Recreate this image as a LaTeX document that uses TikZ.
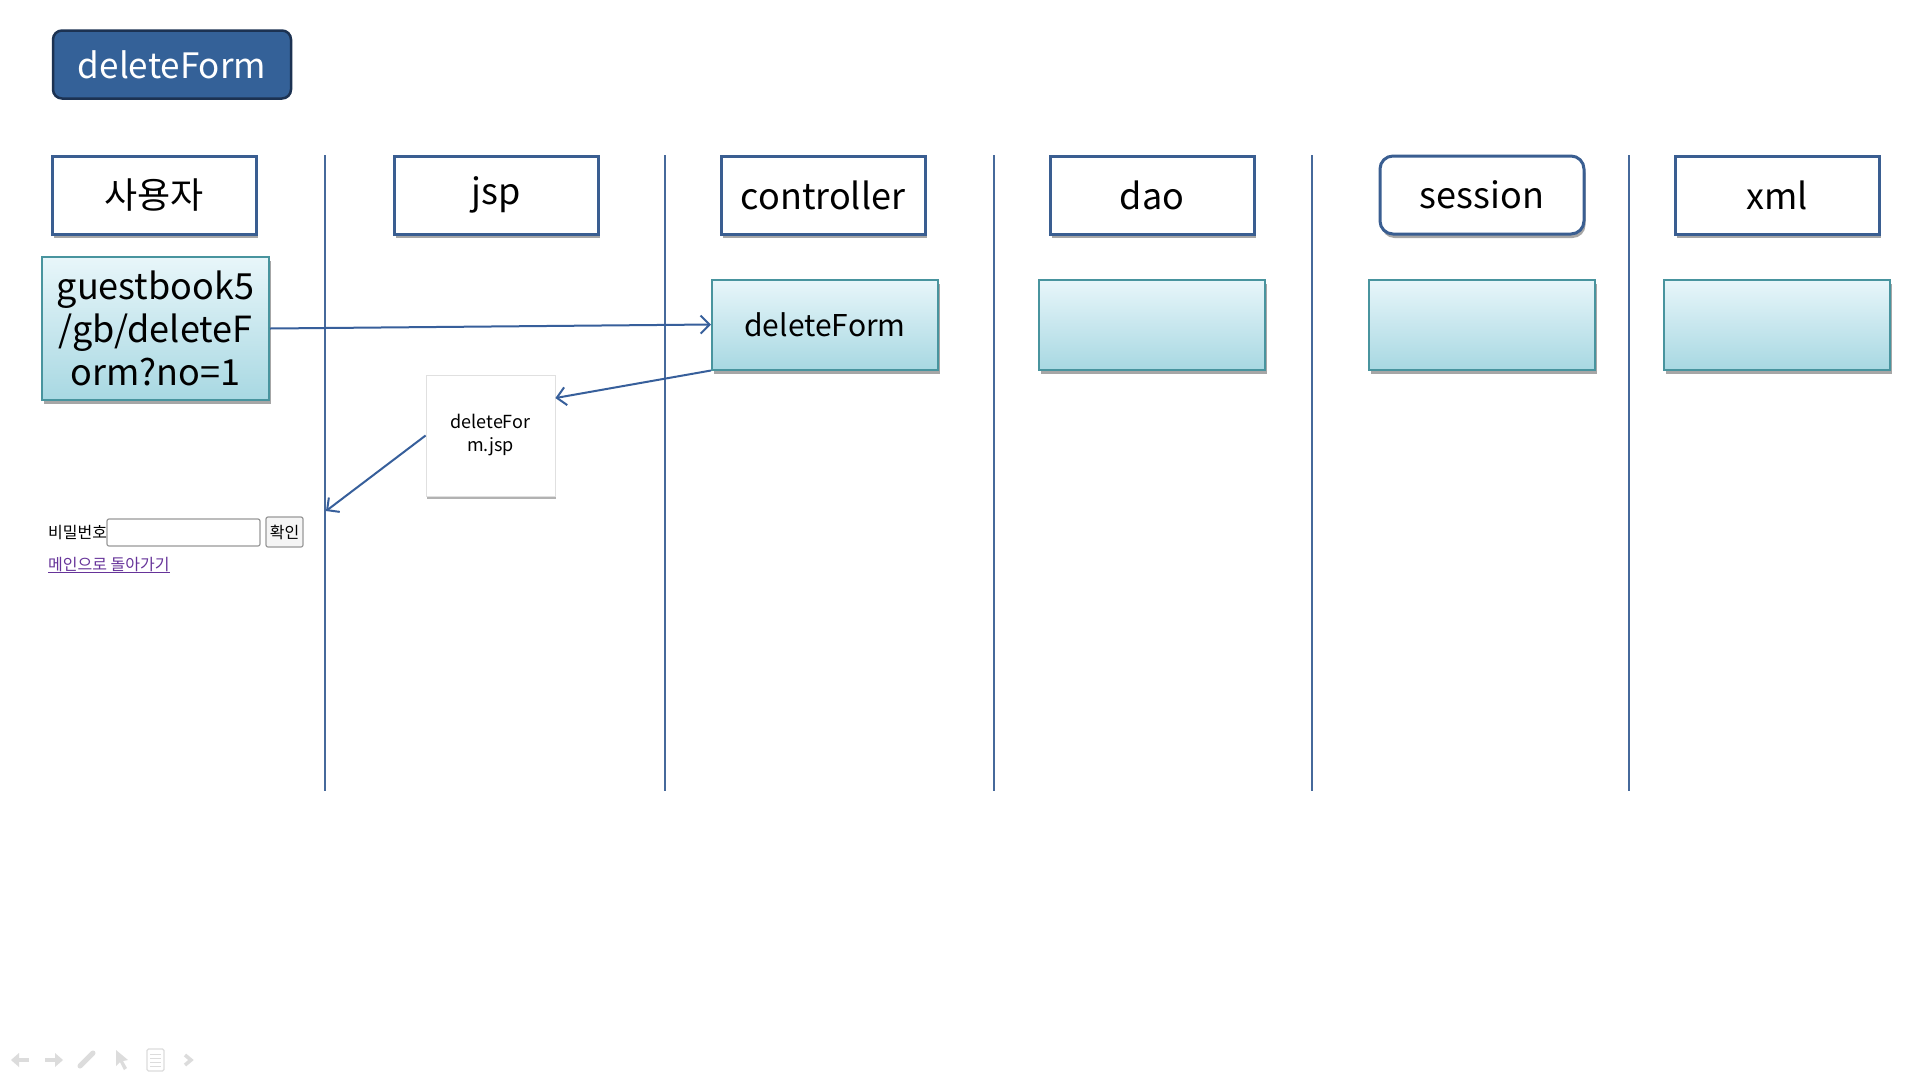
\documentclass[tikz,border=0pt]{standalone}
\usepackage{fontspec}
\setmainfont{Noto Sans CJK KR}
\usetikzlibrary{arrows.meta,shadows,calc}
\definecolor{titlefill}{RGB}{52,97,152}
\definecolor{titledraw}{RGB}{28,50,82}
\definecolor{hdrdraw}{RGB}{58,94,145}
\definecolor{lanec}{RGB}{70,105,155}
\definecolor{boxtop}{RGB}{232,246,250}
\definecolor{boxbot}{RGB}{168,216,226}
\definecolor{boxdraw}{RGB}{72,148,158}
\definecolor{arrc}{RGB}{55,95,155}
\definecolor{linkc}{RGB}{102,51,153}
\definecolor{iconc}{RGB}{220,220,220}
\tikzset{
  shad/.style={drop shadow={shadow xshift=1.5pt,shadow yshift=-4pt,fill=black,opacity=0.35}},
  titlebox/.style={draw=titledraw,line width=2.5pt,fill=titlefill,rounded corners=9pt,
    minimum width=238,minimum height=68,text=white,font=\fontsize{35}{40}\selectfont,inner sep=0},
  hdr/.style={draw=hdrdraw,line width=3pt,fill=white,minimum width=204,minimum height=78,
    font=\fontsize{36}{40}\selectfont,inner sep=0,shad},
  lightbox/.style={draw=boxdraw,line width=2pt,top color=boxtop,bottom color=boxbot,
    minimum width=226,minimum height=90,inner sep=0,shad},
  jspbox/.style={draw=black!12,line width=0.8pt,fill=white,minimum width=129,minimum height=121,inner sep=0,
    font=\fontsize{18}{23}\selectfont,align=center,
    drop shadow={shadow xshift=1pt,shadow yshift=-3pt,fill=black,opacity=0.3}},
  lane/.style={draw=lanec,line width=2pt},
  flow/.style={draw=arrc,line width=2pt,-{Straight Barb[length=9pt,width=18pt,line width=2pt]}},
  small/.style={font=\fontsize{16}{19}\selectfont,inner sep=0}
}
\begin{document}
\begin{tikzpicture}[x=1pt,y=-1pt]
\useasboundingbox (0,0) rectangle (1920,1080);
\fill[white] (0,0) rectangle (1920,1080);

% title
\node[titlebox] (title) at (172,64.5) {deleteForm};

% lane lines
\foreach \n/\x in {1/325,2/665,3/994,4/1312,5/1629}{
  \coordinate (L\n t) at (\x,155);
  \coordinate (L\n b) at (\x,791);
  \draw[lane] (L\n t) -- (L\n b);
}

% headers
\node[hdr] (huser) at (154,195) {사용자};
\node[hdr] (hjsp) at (496,195) {jsp};
\node[hdr] (hctl) at (823,195) {controller};
\node[hdr] (hdao) at (1152,195) {dao};
\node[hdr,rounded corners=13pt] (hses) at (1482,195) {session};
\node[hdr] (hxml) at (1777,195) {xml};

% light boxes
\node[lightbox,minimum width=227,minimum height=143,align=center,
  font=\fontsize{36}{43}\selectfont] (gb) at (155.5,328.5) {guestbook5\\/gb/deleteF\\orm?no=1};
\node[lightbox,font=\fontsize{30}{34}\selectfont] (ctl) at (825,324.5) {deleteForm};
\node[lightbox] (dao) at (1152,324.5) {};
\node[lightbox] (ses) at (1482,324.5) {};
\node[lightbox] (xml) at (1777,324.5) {};

% jsp page
\node[jspbox] (jspf) at (490.5,435.5) {deleteFor\\m.jsp};

% arrows
\coordinate (ret) at (326,511);
\draw[flow] (gb.east) -- (ctl.west);
\draw[flow] (ctl.south west) -- (jspf.30);
\draw[flow] (jspf.west) -- (ret);

% form mock-up
\node[small,anchor=west] (pwlabel) at (48,533) {비밀번호};
\node[draw=gray!80,line width=1.2pt,rounded corners=2pt,fill=white,minimum width=153,minimum height=27,inner sep=0] (pwinput) at (183.5,532.5) {};
\node[draw=gray!80,line width=1.2pt,rounded corners=2pt,fill=gray!8,minimum width=37,minimum height=30,small] (okbtn) at (284.5,532) {확인};
\node[small,anchor=west,text=linkc] (link) at (48,565) {\underline{메인으로 돌아가기}};

% toolbar icons
\draw[iconc,line width=4pt] (29,1060) -- (18,1060);
\fill[iconc] (11,1060) -- (19,1053) -- (19,1067) -- cycle;
\draw[iconc,line width=4pt] (45,1060) -- (56,1060);
\fill[iconc] (63,1060) -- (55,1053) -- (55,1067) -- cycle;
\draw[iconc,line width=5pt,line cap=round] (80,1066) -- (93,1053);
\fill[iconc] (116,1050) -- (116,1066) -- (120,1062) -- (124,1070) -- (127,1068) -- (123,1061) -- (128,1060) -- cycle;
\draw[iconc,line width=1.2pt,rounded corners=1.5pt] (147,1049) rectangle (164,1071);
\foreach \yy in {1054,1058,1062,1066}{\draw[iconc,line width=1pt] (150,\yy) -- (161,\yy);}
\draw[iconc,line width=3.5pt] (185,1055) -- (191,1060) -- (185,1065);
\end{tikzpicture}
\end{document}
